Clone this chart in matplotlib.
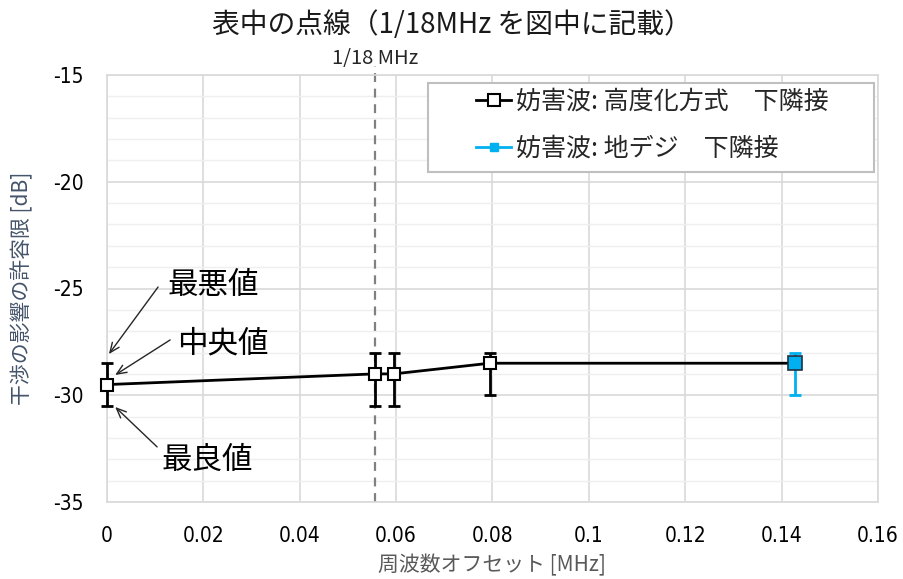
import matplotlib
matplotlib.use("Agg")
import matplotlib.pyplot as plt
from matplotlib.ticker import MultipleLocator
from matplotlib.lines import Line2D
from matplotlib.patches import Rectangle
from matplotlib import font_manager
import numpy as np

plt.rcParams['font.family'] = ['Noto Sans CJK JP', 'DejaVu Sans']

# Data
x_black = [0.0, 1/18, 0.0595, 0.0794, 1/7]
y_black = [-29.5, -29.0, -29.0, -28.5, -28.5]
worst_black = [-28.5, -28.0, -28.0, -28.0, -28.0]
best_black = [-30.5, -30.5, -30.5, -30.0, -30.0]
n_black_err = 4  # error bars drawn for first four points

x_blue = [1/7]
y_blue = [-28.5]
worst_blue = [-28.0]
best_blue = [-30.0]

title = "表中の点線（1/18MHz を図中に記載）"
label_black = "妨害波: 高度化方式　下隣接"
label_blue = "妨害波: 地デジ　下隣接"
xlabel = "周波数オフセット [MHz]"
ylabel = "干渉の影響の許容限 [dB]"
vline_x = 1/18
vline_label = "1/18 MHz"

# pick a narrow font for tick labels if one is installed
tick_font = None
for f in font_manager.fontManager.ttflist:
    if ('Narrow' in f.name or 'Condensed' in f.name) and f.weight in (400, 'normal', 'regular') and f.style == 'normal':
        tick_font = font_manager.FontProperties(fname=f.fname)
        break
    if f.name == 'DejaVu Sans' and str(f.stretch) in ('condensed', 'semi-condensed', '300', '400') and 'Condensed' in f.fname and 'Bold' not in f.fname and 'Oblique' not in f.fname:
        tick_font = font_manager.FontProperties(fname=f.fname)
        break
if tick_font is None:
    tick_font = font_manager.FontProperties(family=['Noto Sans CJK JP'])
tick_font.set_size(15)

fig = plt.figure(figsize=(9.04, 5.79), dpi=100)
ax = fig.add_axes([107/904, 1-502/579, (878-107)/904, (502-75)/579])

ax.set_xlim(0, 0.16)
ax.set_ylim(-35, -15)
ax.yaxis.set_minor_locator(MultipleLocator(1))
ax.grid(which='major', axis='both', color='#d9d9d9', lw=1.2, zorder=0)
ax.grid(which='minor', axis='y', color='#efefef', lw=1.0, zorder=0)
ax.set_axisbelow(True)
for s in ax.spines.values():
    s.set_color('#d9d9d9')
    s.set_linewidth(1.2)
ax.tick_params(which='both', length=0)
xt = np.arange(0, 0.1601, 0.02)
ax.set_xticks(xt)
ax.set_xticklabels(['0'] + [f"{v:g}" for v in xt[1:]], fontproperties=tick_font)
yt = np.arange(-35, -14, 5)
ax.set_yticks(yt)
ax.set_yticklabels([str(v) for v in yt], fontproperties=tick_font)
ax.tick_params(axis='x', pad=17)
ax.tick_params(axis='y', pad=17)

# dashed vertical line
ax.axvline(vline_x, color='#808080', ls=(0, (4, 3)), lw=1.6, zorder=1, ymin=0, ymax=1.02, clip_on=False)
ax.text(vline_x, -14.7, vline_label, ha='center', va='bottom', fontsize=14.5, color='#262626')

# black series
yb = np.array(y_black[:n_black_err])
err_lo = yb - np.array(best_black[:n_black_err])
err_hi = np.array(worst_black[:n_black_err]) - yb
ax.plot(x_black, y_black, color='black', lw=2, zorder=3, clip_on=False)
eb = ax.errorbar(x_black[:n_black_err], y_black[:n_black_err], yerr=[err_lo, err_hi], fmt='none',
                 ecolor='black', elinewidth=2, capsize=4, capthick=2, zorder=3)
for art in eb.lines[1] + eb.lines[2]:
    art.set_clip_on(False)
ax.plot(x_black[:n_black_err], y_black[:n_black_err], ls='none', marker='s', ms=9,
        mfc='white', mec='black', mew=1.5, zorder=4, clip_on=False)

# blue series
ybl = np.array(y_blue)
ax.errorbar(x_blue, y_blue, yerr=[ybl - np.array(best_blue), np.array(worst_blue) - ybl], fmt='none',
            ecolor='#00B0F0', elinewidth=2, capsize=4, capthick=2, zorder=5)
ax.plot(x_blue, y_blue, ls='none', marker='s', ms=9.5, mfc='#00B0F0', mec='#1f3040', mew=1.2, zorder=6)

# legend (frame drawn separately)
frame = Rectangle((428/904, 1-172/579), (874-428)/904, (172-83)/579,
                  transform=fig.transFigure, fill=True, facecolor='white',
                  edgecolor='#bfbfbf', lw=1.5, zorder=8, clip_on=False)
ax.add_artist(frame)
h1 = Line2D([], [], color='black', lw=2, marker='s', ms=8, mfc='white', mec='black', mew=1.5)
h2 = Line2D([], [], color='#00B0F0', lw=2, marker='s', ms=6, mfc='#00B0F0', mec='#00B0F0')
leg = ax.legend([h1, h2], [label_black, label_blue], loc='upper left',
                bbox_to_anchor=(476/904, 1-89/579), bbox_transform=fig.transFigure,
                fontsize=18, frameon=False, handlelength=1.4, handletextpad=0.2,
                borderpad=0, labelspacing=0.82, borderaxespad=0)
leg.set_zorder(10)
for t in leg.get_texts():
    t.set_color('#262626')

# annotations
txt_kw = dict(fontsize=22, ha='center', va='center', color='black')
arr = dict(arrowstyle='->,head_length=0.7,head_width=0.3', color='#262626', lw=1, shrinkA=0, shrinkB=0)
ax.text(0.0220, -24.85, "最悪値", **txt_kw)
ax.text(0.0240, -27.6, "中央値", **txt_kw)
ax.text(0.0208, -33.05, "最良値", **txt_kw)
ax.annotate("", xy=(0.0004, -28.07), xytext=(0.0106, -24.93), arrowprops=arr, annotation_clip=False)
ax.annotate("", xy=(0.0017, -29.05), xytext=(0.0131, -27.41), arrowprops=arr, annotation_clip=False)
ax.annotate("", xy=(0.0017, -30.55), xytext=(0.0104, -32.42), arrowprops=arr, annotation_clip=False)

ax.set_xlabel(xlabel, fontsize=15, color='#595959', labelpad=6)
ax.set_ylabel(ylabel, fontsize=15, color='#44546A', labelpad=14)
fig.suptitle(title, fontsize=20, y=0.982, color='#1a1a1a')

fig.savefig("out.png", dpi=100)
